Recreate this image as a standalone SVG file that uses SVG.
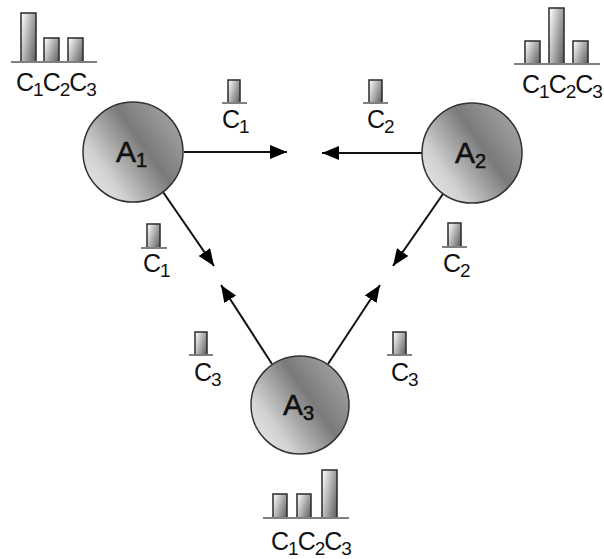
<svg xmlns="http://www.w3.org/2000/svg" width="604" height="559" viewBox="0 0 604 559">
<defs>
<linearGradient id="ballGrad" x1="0" y1="0.85" x2="1" y2="0.15">
<stop offset="0" stop-color="#e6e6e6"/>
<stop offset="0.22" stop-color="#d2d2d2"/>
<stop offset="0.6" stop-color="#7a7a7a"/>
<stop offset="1" stop-color="#a8a8a8"/>
</linearGradient>
<linearGradient id="barGrad" x1="0" y1="0.2" x2="1" y2="0.8">
<stop offset="0" stop-color="#f6f6f6"/>
<stop offset="1" stop-color="#666"/>
</linearGradient>
<marker id="arrow" markerUnits="userSpaceOnUse" markerWidth="18" markerHeight="14" refX="17" refY="7" orient="auto">
<path d="M0,0 L17,7 L0,14 Z" fill="#000"/>
</marker>
</defs>
<style>
.ball{fill:url(#ballGrad);stroke:#333;stroke-width:1.5}
.bar{fill:url(#barGrad);stroke:#2a2a2a;stroke-width:1.5}
.base{stroke:#808080;stroke-width:2}
.lbl{font-family:"Liberation Sans",Arial,sans-serif;fill:#111}
.big{font-size:25px;letter-spacing:-1px}
.nm{font-size:30px;stroke:#111;stroke-width:0.6}
.edge{stroke:#111;stroke-width:2;fill:none;marker-end:url(#arrow)}
</style>
<rect width="604" height="559" fill="#fff"/>

<g id="connectors">
<line class="edge" x1="184" y1="152" x2="287" y2="152"/>
<line class="edge" x1="422" y1="153" x2="322" y2="153"/>
<line class="edge" x1="163" y1="192" x2="214" y2="266"/>
<line class="edge" x1="443" y1="194" x2="393" y2="266"/>
<line class="edge" x1="272" y1="364" x2="221" y2="285"/>
<line class="edge" x1="328" y1="364" x2="380" y2="285"/>
</g>

<g id="node-A1">
<circle class="ball" cx="133" cy="152" r="50"/>
<text class="lbl nm" x="116" y="162">A<tspan font-size="20" dy="5">1</tspan></text>
</g>
<g id="node-A2">
<circle class="ball" cx="472" cy="153" r="50"/>
<text class="lbl nm" x="455" y="163">A<tspan font-size="20" dy="5">2</tspan></text>
</g>
<g id="node-A3">
<circle class="ball" cx="300" cy="405" r="49"/>
<text class="lbl nm" x="283" y="415">A<tspan font-size="20" dy="5">3</tspan></text>
</g>

<g id="chart-A1">
<rect class="bar" x="21" y="13" width="15" height="49"/>
<rect class="bar" x="44" y="38" width="15" height="24"/>
<rect class="bar" x="68" y="38" width="15" height="24"/>
<line class="base" x1="11" y1="62" x2="97" y2="62"/>
<text class="lbl big" x="16" y="91">C<tspan font-size="19" dy="5">1</tspan><tspan dy="-5">C</tspan><tspan font-size="19" dy="5">2</tspan><tspan dy="-5">C</tspan><tspan font-size="19" dy="5">3</tspan></text>
</g>
<g id="chart-A2">
<rect class="bar" x="525" y="41" width="15" height="23"/>
<rect class="bar" x="549" y="8" width="15" height="56"/>
<rect class="bar" x="573" y="41" width="15" height="23"/>
<line class="base" x1="514" y1="64" x2="600" y2="64"/>
<text class="lbl big" x="522" y="93">C<tspan font-size="19" dy="5">1</tspan><tspan dy="-5">C</tspan><tspan font-size="19" dy="5">2</tspan><tspan dy="-5">C</tspan><tspan font-size="19" dy="5">3</tspan></text>
</g>
<g id="chart-A3">
<rect class="bar" x="273" y="494" width="14" height="24"/>
<rect class="bar" x="297" y="494" width="14" height="24"/>
<rect class="bar" x="322" y="470" width="15" height="48"/>
<line class="base" x1="263" y1="518" x2="349" y2="518"/>
<text class="lbl big" x="271" y="550">C<tspan font-size="19" dy="5">1</tspan><tspan dy="-5">C</tspan><tspan font-size="19" dy="5">2</tspan><tspan dy="-5">C</tspan><tspan font-size="19" dy="5">3</tspan></text>
</g>

<g id="msg-A1-right">
<rect class="bar" x="228" y="80" width="12" height="23"/>
<line class="base" x1="222" y1="103" x2="247" y2="103"/>
<text class="lbl big" x="222" y="128">C<tspan font-size="19" dy="5">1</tspan></text>
</g>
<g id="msg-A2-left">
<rect class="bar" x="369" y="80" width="13" height="23"/>
<line class="base" x1="363" y1="103" x2="388" y2="103"/>
<text class="lbl big" x="367" y="128">C<tspan font-size="19" dy="5">2</tspan></text>
</g>
<g id="msg-A1-down">
<rect class="bar" x="147" y="224" width="13" height="24"/>
<line class="base" x1="141" y1="248" x2="167" y2="248"/>
<text class="lbl big" x="143" y="272">C<tspan font-size="19" dy="5">1</tspan></text>
</g>
<g id="msg-A2-down">
<rect class="bar" x="448" y="223" width="13" height="24"/>
<line class="base" x1="442" y1="247" x2="467" y2="247"/>
<text class="lbl big" x="443" y="272">C<tspan font-size="19" dy="5">2</tspan></text>
</g>
<g id="msg-A3-left">
<rect class="bar" x="195" y="332" width="12" height="23"/>
<line class="base" x1="189" y1="355" x2="213" y2="355"/>
<text class="lbl big" x="194" y="381">C<tspan font-size="19" dy="5">3</tspan></text>
</g>
<g id="msg-A3-right">
<rect class="bar" x="393" y="332" width="13" height="23"/>
<line class="base" x1="387" y1="355" x2="412" y2="355"/>
<text class="lbl big" x="391" y="381">C<tspan font-size="19" dy="5">3</tspan></text>
</g>
</svg>
